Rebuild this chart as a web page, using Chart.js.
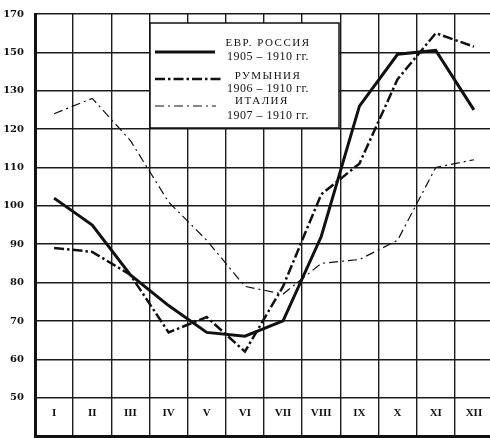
<!DOCTYPE html>
<html>
<head>
<meta charset="utf-8">
<script src="https://cdn.jsdelivr.net/npm/chart.js@4.4.1/dist/chart.umd.min.js"></script>
<style>
  html, body { margin: 0; padding: 0; background: #fff; overflow: hidden; }
  #wrap { position: absolute; left: 0; top: 0; width: 496px; height: 438px; }
</style>
</head>
<body>
<div id="wrap"><canvas id="chart"></canvas></div>
<script>
// Monthly index (average month = 100)
const months = ['I', 'II', 'III', 'IV', 'V', 'VI', 'VII', 'VIII', 'IX', 'X', 'XI', 'XII'];
const russia  = [102, 95, 82, 74, 67, 66, 70, 92, 126, 149, 151, 125];
const romania = [89, 88, 82, 67, 71, 62, 79, 103, 111, 136, 160, 153];
const italy   = [124, 128, 117, 101, 91, 79, 77, 85, 86, 91, 110, 112];

// Printed y labels: equal spacing, but 20 units per step above 130
const yTicks = [50, 60, 70, 80, 90, 100, 110, 120, 130, 150, 170];
const yFloor = 40;   // bottom of the month-label row

const seriesNames = ['ЕВР. РОССИЯ', 'РУМЫНИЯ', 'ИТАЛИЯ'];
const seriesYears = ['1905 – 1910 гг.', '1906 – 1910 гг.', '1907 – 1910 гг.'];

// ---- scale whose gridlines are evenly spaced, piecewise-linear between them ----
const nodes = [yFloor, ...yTicks];
function valueToFraction(v) {
  const n = nodes.length - 1;
  for (let i = 1; i <= n; i++) {
    if (v <= nodes[i] || i === n) {
      return (i - 1 + (v - nodes[i - 1]) / (nodes[i] - nodes[i - 1])) / n;
    }
  }
}
function fractionToValue(f) {
  const n = nodes.length - 1;
  const p = Math.max(0, Math.min(n, f * n));
  const i = Math.min(n - 1, Math.floor(p));
  return nodes[i] + (p - i) * (nodes[i + 1] - nodes[i]);
}
class GridStepScale extends Chart.LinearScale {
  determineDataLimits() { this.min = nodes[0]; this.max = nodes[nodes.length - 1]; }
  buildTicks() { return yTicks.map(v => ({ value: v })); }
  getPixelForValue(v) { return this.getPixelForDecimal(valueToFraction(v)); }
  getValueForPixel(p) { return fractionToValue(this.getDecimalForPixel(p)); }
}
GridStepScale.id = 'gridstep';
GridStepScale.defaults = Chart.LinearScale.defaults;
Chart.register(GridStepScale);

const INK = '#111';
const GRID = '#1c1c1c';

// ---- boxed legend with line samples and two-line captions ----
const boxedLegend = {
  id: 'boxedLegend',
  afterDatasetsDraw(chart) {
    const ctx = chart.ctx;
    const a = chart.chartArea;
    const x0 = a.left + 115, y0 = a.top + 9, w = 189, h = 105;
    ctx.save();
    ctx.fillStyle = '#fff';
    ctx.fillRect(x0, y0, w, h);
    ctx.strokeStyle = INK;
    ctx.lineWidth = 1.5;
    ctx.strokeRect(x0, y0, w, h);

    const sampleY = [29, 56, 83];
    const sampleEnd = [65, 72, 66];
    const nameY = [20, 53, 78];
    const nameX = [118, 118, 112];
    const yearY = [34, 66, 93];
    chart.data.datasets.forEach((ds, i) => {
      ctx.beginPath();
      ctx.setLineDash(ds.borderDash || []);
      ctx.lineWidth = ds.borderWidth;
      ctx.strokeStyle = ds.borderColor;
      ctx.moveTo(x0 + 5, y0 + sampleY[i]);
      ctx.lineTo(x0 + sampleEnd[i], y0 + sampleY[i]);
      ctx.stroke();
      ctx.setLineDash([]);

      ctx.fillStyle = INK;
      ctx.textAlign = 'center';
      ctx.textBaseline = 'middle';
      ctx.font = '11px "Liberation Serif"';
      ctx.letterSpacing = '1.5px';
      ctx.fillText(seriesNames[i], x0 + nameX[i], y0 + nameY[i]);
      ctx.font = '12px "Liberation Serif"';
      ctx.letterSpacing = '0.5px';
      ctx.fillText(seriesYears[i], x0 + 118, y0 + yearY[i]);
    });
    ctx.restore();
  }
};

new Chart(document.getElementById('chart'), {
  type: 'line',
  data: {
    labels: months,
    datasets: [
      { label: seriesNames[0], data: russia, borderColor: INK, borderWidth: 3,
        pointRadius: 0, fill: false, tension: 0 },
      { label: seriesNames[1], data: romania, borderColor: INK, borderWidth: 2.5,
        borderDash: [10, 3, 2.5, 3], pointRadius: 0, fill: false, tension: 0 },
      { label: seriesNames[2], data: italy, borderColor: INK, borderWidth: 1.2,
        borderDash: [9, 4, 2, 4], pointRadius: 0, fill: false, tension: 0 }
    ]
  },
  options: {
    responsive: true,
    maintainAspectRatio: false,
    animation: false,
    devicePixelRatio: 1,
    layout: { padding: { top: 14, right: 3, bottom: 2, left: 0 } },
    plugins: { legend: { display: false }, tooltip: { enabled: false } },
    scales: {
      x: {
        type: 'category',
        offset: true,
        grid: { offset: true, color: GRID, lineWidth: 1.4, drawTicks: false },
        border: { color: INK, width: 3 },
        // month names sit inside the bottom row of the grid
        ticks: { color: INK, mirror: true, padding: 16, autoSkip: false, maxRotation: 0,
                 font: { family: 'Liberation Serif', size: 11, weight: 'bold' } },
        afterFit: s => { s.height = 0; s.paddingLeft = 0; s.paddingRight = 0; }
      },
      y: {
        type: 'gridstep',
        position: 'left',
        grid: { color: GRID, lineWidth: 1.4, drawTicks: false },
        border: { color: INK, width: 3 },
        ticks: { color: INK, padding: 11, callback: v => String(v),
                 font: { family: 'DejaVu Serif', size: 10, weight: 'bold' } },
        afterFit: s => { s.width = 35; s.paddingTop = 0; s.paddingBottom = 0; }
      }
    }
  },
  plugins: [boxedLegend]
});
</script>
</body>
</html>
